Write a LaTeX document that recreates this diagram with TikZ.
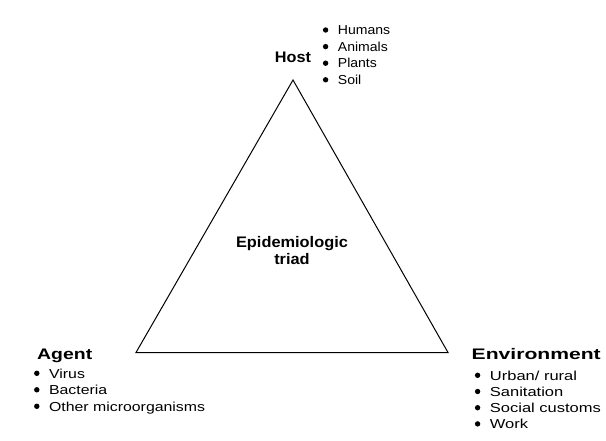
\documentclass[tikz,border=0pt]{standalone}
\usepackage{fontspec}
\setmainfont{Liberation Sans}
\usepackage{tikz}

\newcommand{\bul}{\tikz[baseline=0pt] \fill (0pt,4.7pt) circle[radius=2.7pt];\hspace{9.6pt}}

\tikzset{
  head/.style={inner sep=0pt, font=\fontsize{15.3}{17.7}\selectfont\bfseries\addfontfeatures{FakeStretch=#1}},
  items/.style n args={2}{inner sep=0pt, align=left, anchor=base west,
    font=\fontsize{13}{#2}\selectfont\addfontfeatures{FakeStretch=#1}}
}

\begin{document}
\begin{tikzpicture}[x=1pt,y=-1pt]
\useasboundingbox (0,0) rectangle (606,441);

% triangle
\coordinate (apex) at (293,80);
\coordinate (lcorner) at (136,352.5);
\coordinate (rcorner) at (448,352.5);
\draw [line width=1pt, line join=miter] (apex) -- (lcorner) -- (rcorner) -- cycle;

% base of a multi-line node = its last line
\node [head=1.07, align=center, anchor=base] (triad) at (292,265) {Epidemiologic\\triad};

% host
\node [head=1.06, anchor=base] (host) at (293,63) {Host};
\node [items={1.08}{16.6}] (hostlist) at (322.7,84.5) {
\bul Humans\\
\bul Animals\\
\bul Plants\\
\bul Soil};

% agent
\node [head=1.27, anchor=base west] (agent) at (37,359.3) {Agent};
\node [items={1.22}{16.5}] (agentlist) at (33.9,411) {
\bul Virus\\
\bul Bacteria\\
\bul Other microorganisms};

% environment
\node [head=1.38, anchor=base west] (env) at (471.5,359.3) {Environment};
\node [items={1.27}{16.2}] (envlist) at (474.7,428.6) {
\bul Urban/ rural\\
\bul Sanitation\\
\bul Social customs\\
\bul Work};
\end{tikzpicture}
\end{document}
